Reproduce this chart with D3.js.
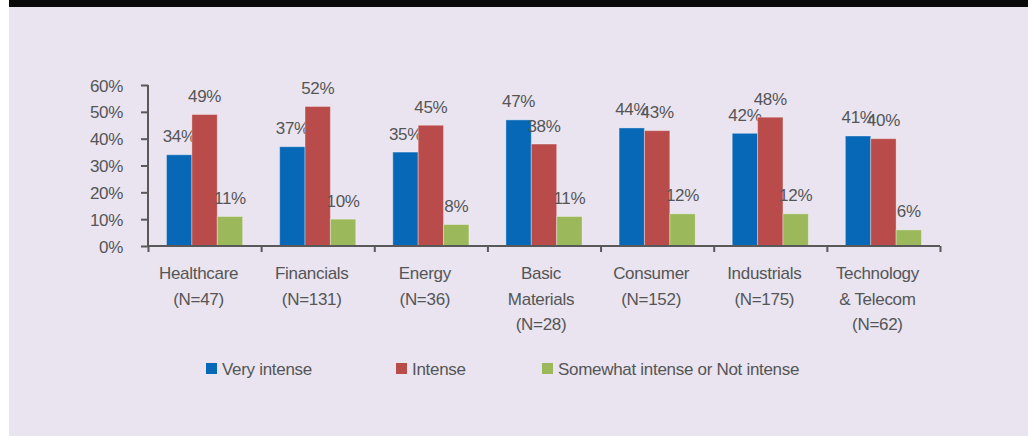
<!DOCTYPE html>
<html><head><meta charset="utf-8">
<script src="https://cdn.jsdelivr.net/npm/d3@7"></script>
<style>
html,body{margin:0;padding:0;background:#fff;}
svg{display:block;}
text{font-family:"Liberation Sans",Arial,sans-serif;fill:#555557;letter-spacing:-0.3px;}
</style></head>
<body><svg id="c" width="1028" height="436"></svg>
<script>
const categories = [
  ["Healthcare","(N=47)"],
  ["Financials","(N=131)"],
  ["Energy","(N=36)"],
  ["Basic","Materials","(N=28)"],
  ["Consumer","(N=152)"],
  ["Industrials","(N=175)"],
  ["Technology","& Telecom","(N=62)"]
];
const seriesNames = ["Very intense","Intense","Somewhat intense or Not intense"];
const veryIntense = [34,37,35,47,44,42,41];
const intense = [49,52,45,38,43,48,40];
const somewhat = [11,10,8,11,12,12,6];
const yTicks = [0,10,20,30,40,50,60];
const colors = ["#0868b8","#b94b4a","#9bb85a"];

const svg = d3.select("#c");
svg.append("rect").attr("x",9).attr("y",0).attr("width",1019).attr("height",436).attr("fill","#e9e4ef");
svg.append("rect").attr("x",9).attr("y",0).attr("width",1019).attr("height",7).attr("fill","#0a0a0a");

const x0 = 148, x1 = 940, yb = 246, yt = 85;
const idx = d3.range(categories.length);
const x = d3.scaleBand().domain(idx).range([x0,x1]).paddingInner(0).paddingOuter(0);
const y = d3.scaleLinear().domain([0,60]).range([yb,yt]);
const data = [veryIntense,intense,somewhat];
const groupPad = 18.5;
const xs = d3.scaleBand().domain([0,1,2]).range([groupPad, x.bandwidth()-groupPad]);

const g = svg.append("g");
data.forEach((vals,s)=>{
  g.selectAll(null).data(vals).enter().append("rect")
    .attr("x",(d,i)=>x(i)+xs(s)).attr("y",d=>y(d))
    .attr("width",xs.bandwidth()).attr("height",d=>yb-y(d))
    .attr("fill",colors[s]).attr("stroke","rgba(255,255,255,0.35)").attr("stroke-width",1);
  g.selectAll(null).data(vals).enter().append("text")
    .attr("x",(d,i)=>x(i)+xs(s)+xs.bandwidth()/2).attr("y",d=>y(d)-12.5)
    .attr("text-anchor","middle").attr("font-size",17).text(d=>d+"%");
});

// y axis
const yAxis = d3.axisLeft(y).tickValues(yTicks).tickFormat(d=>d+"%").tickSize(7).tickPadding(18);
const ya = svg.append("g").attr("transform",`translate(${x0},0)`).call(yAxis);
ya.select(".domain").attr("stroke","#595959").attr("stroke-width",2).attr("d",`M0,${yt}V${yb}`);
ya.selectAll(".tick line").attr("stroke","#595959").attr("stroke-width",2);
ya.selectAll(".tick text").attr("font-size",17).attr("fill","#555557").attr("font-family",null).attr("dy","0.36em");

// x axis
const xb = d3.scaleLinear().domain([0,categories.length]).range([x0,x1]);
const xAxis = d3.axisBottom(xb).tickValues(d3.range(categories.length+1)).tickSize(6).tickFormat("");
const xa = svg.append("g").attr("transform",`translate(0,${yb})`).call(xAxis);
xa.select(".domain").attr("stroke","#595959").attr("stroke-width",2).attr("d",`M${x0},0H${x1}`);
xa.selectAll(".tick line").attr("stroke","#595959").attr("stroke-width",2);

// category labels
categories.forEach((lines,i)=>{
  const cx = x(i)+x.bandwidth()/2 - (lines.length===3 && i===3 ? 3 : 6);
  const t = svg.append("text").attr("text-anchor","middle").attr("font-size",17);
  lines.forEach((l,k)=>t.append("tspan").attr("x",cx).attr("y",279+k*25.5).text(l));
});

// legend
const legX = [206,396,542];
seriesNames.forEach((n,s)=>{
  svg.append("rect").attr("x",legX[s]).attr("y",363).attr("width",11).attr("height",11).attr("fill",colors[s]);
  svg.append("text").attr("x",legX[s]+16).attr("y",375).attr("font-size",17).text(n);
});
</script></body></html>
